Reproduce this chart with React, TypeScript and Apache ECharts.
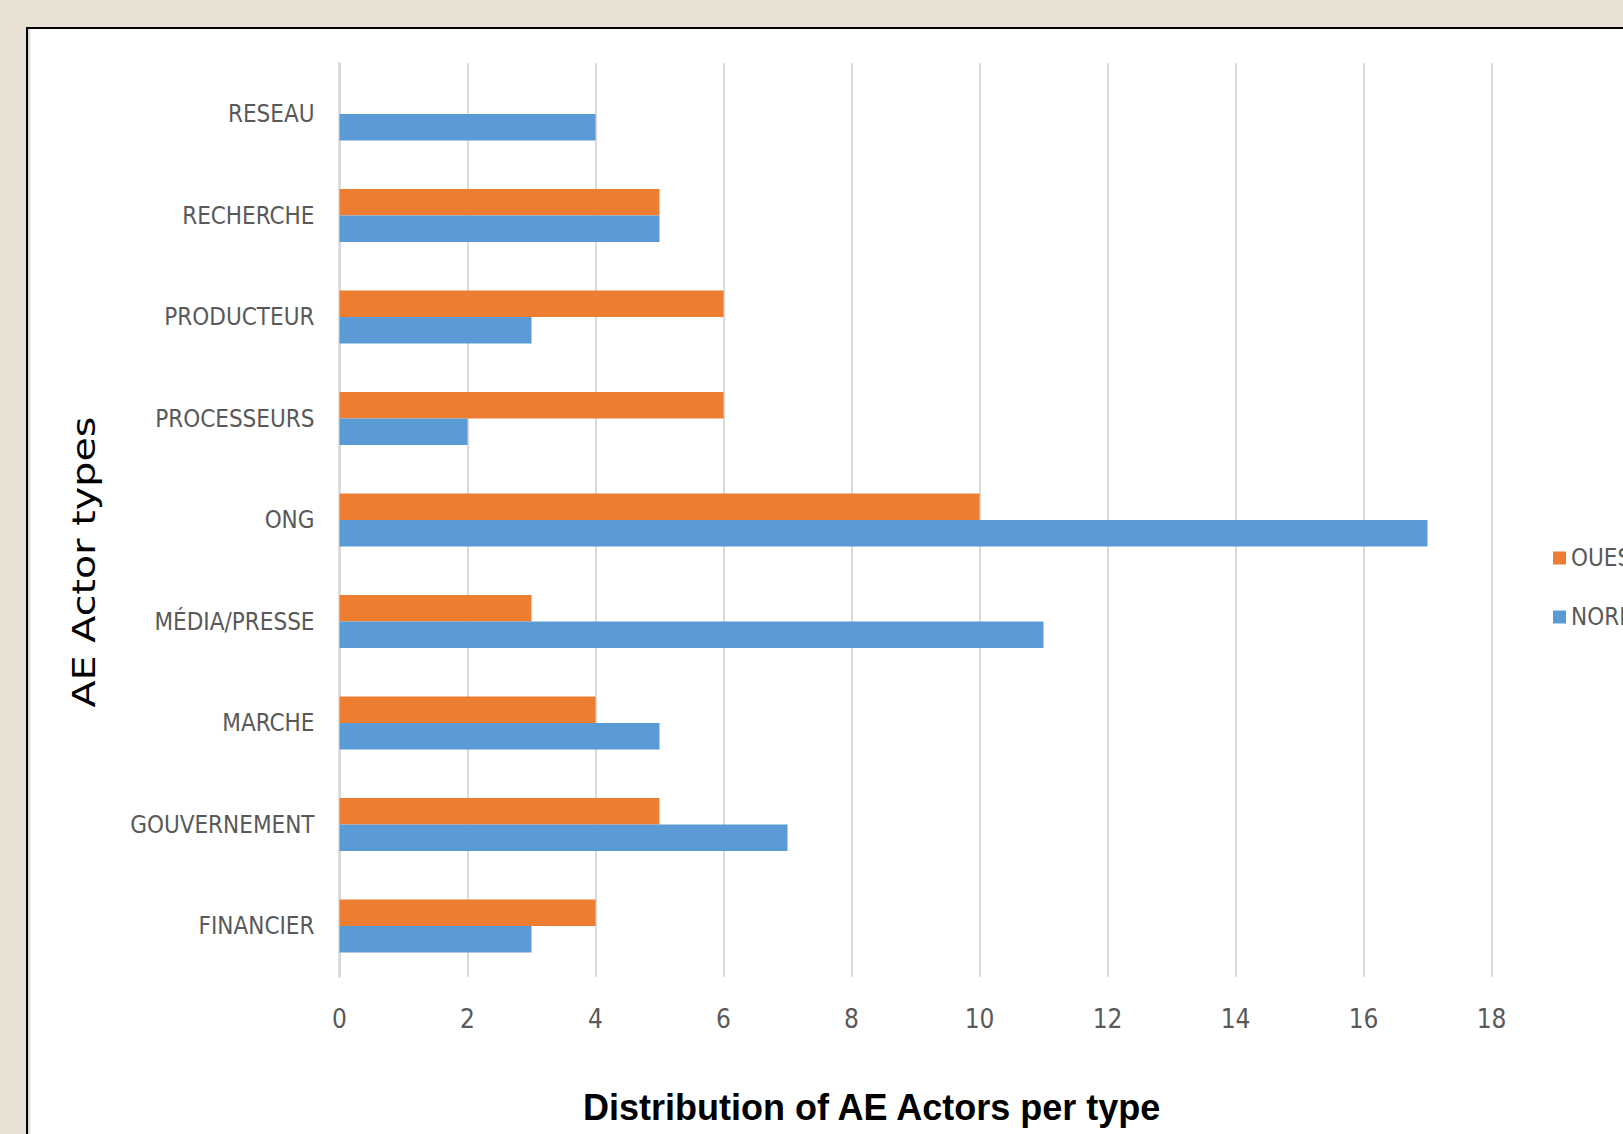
import React, { useEffect, useRef } from "react";
import * as echarts from "echarts";

// Categories from bottom to top (ECharts category y axis starts at the bottom)
const categories = [
  "FINANCIER",
  "GOUVERNEMENT",
  "MARCHE",
  "MÉDIA/PRESSE",
  "ONG",
  "PROCESSEURS",
  "PRODUCTEUR",
  "RECHERCHE",
  "RESEAU",
];
const nordValues = [3, 7, 5, 11, 17, 2, 3, 5, 4];
const ouestValues = [4, 5, 4, 3, 10, 6, 6, 5, 0];
const seriesNames = ["OUEST", "NORD"];
const xMin = 0;
const xMax = 18;
const xInterval = 2;

const titleText = "Distribution of AE Actors per type";
const yAxisTitle = "AE Actor types";

const NARROW = '"Liberation Sans Narrow", "Arial Narrow", "DejaVu Sans Condensed", "Liberation Sans", sans-serif';

export default function App() {
  const ref = useRef<HTMLDivElement>(null);

  useEffect(() => {
    if (!ref.current) return;
    const chart = echarts.init(ref.current, null, { renderer: "svg" });
    chart.setOption({
      animation: false,
      backgroundColor: "transparent",
      title: {
        text: titleText,
        left: 583,
        top: 1089,
        padding: 0,
        textStyle: {
          fontFamily: '"Liberation Sans", Arial, sans-serif',
          fontWeight: "bold",
          fontSize: 36,
          color: "#000000",
        },
      },
      legend: {
        orient: "vertical",
        left: 1553,
        top: 546,
        itemWidth: 13,
        itemHeight: 13,
        itemGap: 35,
        padding: 0,
        icon: "rect",
        data: [seriesNames[0], seriesNames[1]],
        textStyle: { fontFamily: NARROW, fontSize: 24, color: "#595959" },
      },
      grid: {
        left: 339.5,
        top: 63.25,
        width: 1152,
        height: 913.5,
        containLabel: false,
        outerBoundsMode: "none",
      },
      xAxis: {
        type: "value",
        min: xMin,
        max: xMax,
        interval: xInterval,
        axisLine: { show: false },
        axisTick: { show: false },
        splitLine: { show: true, lineStyle: { color: "#d9d9d9", width: 2 } },
        axisLabel: {
          color: "#595959",
          fontSize: 26,
          fontFamily: NARROW,
          margin: 29,
        },
      },
      yAxis: {
        type: "category",
        data: categories,
        axisLine: { show: true, lineStyle: { color: "#d9d9d9", width: 2.5 } },
        axisTick: { show: false },
        axisLabel: {
          color: "#595959",
          fontSize: 24,
          fontFamily: NARROW,
          margin: 25,
        },
      },
      graphic: [
        {
          type: "text",
          x: 83.5,
          y: 562,
          rotation: Math.PI / 2,
          scaleX: 1.24,
          style: {
            text: yAxisTitle,
            fontFamily: '"DejaVu Sans", Verdana, sans-serif',
            fontSize: 32,
            fill: "#000000",
            align: "center",
            verticalAlign: "middle",
          },
        },
      ],
      series: [
        {
          name: seriesNames[0],
          type: "bar",
          data: ouestValues,
          barWidth: 26.5,
          barGap: "0%",
          itemStyle: { color: "#ED7D31" },
        },
        {
          name: seriesNames[1],
          type: "bar",
          data: nordValues,
          barWidth: 26.5,
          barGap: "0%",
          itemStyle: { color: "#5B9BD5" },
        },
      ],
    });
    return () => chart.dispose();
  }, []);

  return (
    <div
      style={{
        position: "fixed",
        left: 0,
        top: 0,
        width: 1623,
        height: 1134,
        overflow: "hidden",
        background: "#e7e0d3",
      }}
    >
      <div
        style={{
          position: "absolute",
          left: 26,
          top: 27,
          width: 1700,
          height: 1200,
          background: "#ffffff",
          border: "2px solid #000000",
          boxShadow: "inset 3px 0 2px -1px #d6d6d6",
        }}
      />
      <div
        ref={ref}
        style={{ position: "absolute", left: 0, top: 0, width: 1623, height: 1134 }}
      />
    </div>
  );
}
